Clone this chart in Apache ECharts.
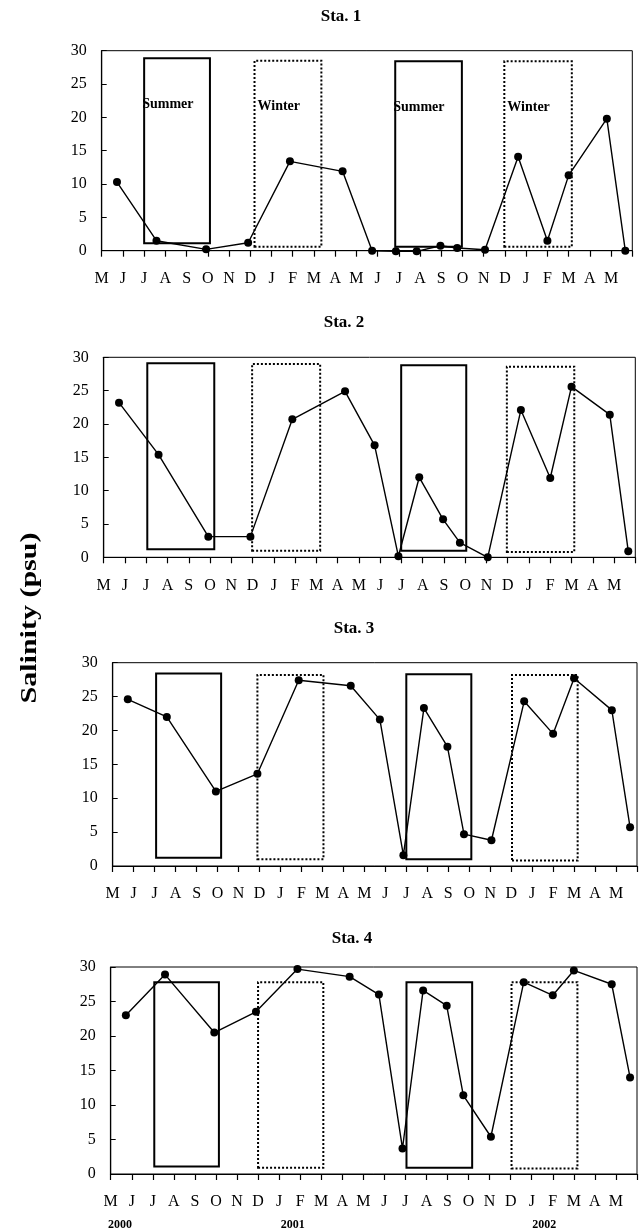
<!DOCTYPE html>
<html>
<head>
<meta charset="utf-8">
<title>Salinity</title>
<script src="https://cdn.jsdelivr.net/npm/echarts@6/dist/echarts.min.js"></script>
<style>
    html, body { margin: 0; padding: 0; background: #fff; }
    #main { width: 640px; height: 1229px; }
</style>
</head>
<body>
<div id="main"></div>
<script>
// month ticks, May 2000 .. Jun 2002
var monthLabels = ['M', 'J', 'J', 'A', 'S', 'O', 'N', 'D', 'J', 'F', 'M', 'A', 'M',
    'J', 'J', 'A', 'S', 'O', 'N', 'D', 'J', 'F', 'M', 'A', 'M', ''];

// sampling dates (months since 1 May 2000), same for all stations
var sampleMonths = [0.72, 2.58, 4.92, 6.9, 8.87, 11.35, 12.74, 13.86, 14.84, 15.96,
    16.75, 18.06, 19.62, 21.0, 22.0, 23.8, 24.67];

// salinity (psu)
var sta1 = [10.3, 1.5, 0.2, 1.2, 13.4, 11.9, 0, -0.1, -0.1, 0.75, 0.4, 0.15, 14.1, 1.5, 11.3, 19.8, 0];
var sta2 = [23.2, 15.4, 3.1, 3.1, 20.7, 24.9, 16.8, 0.15, 12.0, 5.7, 2.2, 0, 22.1, 11.9, 25.6, 21.4, 0.9];
var sta3 = [24.6, 22.0, 11.0, 13.6, 27.4, 26.6, 21.6, 1.6, 23.3, 17.6, 4.7, 3.8, 24.3, 19.5, 27.7, 23.0, 5.7];
var sta4 = [23.0, 28.9, 20.5, 23.5, 29.7, 28.6, 26.0, 3.7, 26.6, 24.4, 11.4, 5.4, 27.8, 25.9, 29.5, 27.5, 14.0];

var stationNames = ['Sta. 1', 'Sta. 2', 'Sta. 3', 'Sta. 4'];
var seasonNames = ['Summer', 'Winter', 'Summer', 'Winter'];

// season boxes: [start month, end month, low, high]
var boxes1 = [[2.0, 5.1, 1.1, 28.85], [7.2, 10.35, 0.6, 28.5], [13.83, 16.97, 0.6, 28.4], [18.97, 22.15, 0.6, 28.4]];
var boxes2 = [[2.05, 5.2, 1.2, 29.1], [6.98, 10.18, 1.0, 29.0], [13.99, 17.05, 1.0, 28.8], [18.96, 22.13, 0.8, 28.6]];
var boxes3 = [[2.07, 5.17, 1.2, 28.4], [6.9, 10.05, 1.0, 28.2], [14.0, 17.1, 1.0, 28.3], [19.04, 22.17, 0.8, 28.2]];
var boxes4 = [[2.07, 5.14, 1.07, 27.8], [7.0, 10.1, 0.9, 27.8], [14.05, 17.17, 0.9, 27.8], [19.04, 22.17, 0.8, 27.8]];

var yearLabels = ['2000', '2001', '2002'];
var yearMonths = [0.44, 8.65, 20.6];

var serif = '"Liberation Serif", "DejaVu Serif", serif';
var stations = [sta1, sta2, sta3, sta4];
var boxes = [boxes1, boxes2, boxes3, boxes4];

// panel layout (px)
var grids = [
    { left: 101.7, top: 50.7, width: 530.6, height: 200 },
    { left: 103.7, top: 357.3, width: 531.6, height: 200 },
    { left: 112.7, top: 662.7, width: 532.5, height: 203.3 },
    { left: 110.7, top: 967, width: 532.5, height: 207 }
];
var titlePos = [[341, 17], [344, 323], [354, 629], [352, 939]];

var myChart = echarts.init(document.getElementById('main'));

var xAxes = [], yAxes = [], series = [], graphics = [];
for (var i = 0; i < 4; i++) {
    grids[i].show = true;
    grids[i].borderColor = '#000';
    grids[i].borderWidth = 1;
    grids[i].backgroundColor = 'transparent';

    xAxes.push({
        type: 'value', gridIndex: i, min: 0, max: 25, interval: 1,
        axisLine: { lineStyle: { color: '#000', width: 1.2 } },
        axisTick: { inside: false, length: 6, lineStyle: { color: '#000', width: 1.2 } },
        axisLabel: {
            margin: 20, color: '#000', fontFamily: serif, fontSize: 16,
            formatter: function (v) { return monthLabels[v] || ''; }
        },
        splitLine: { show: false }
    });
    yAxes.push({
        type: 'value', gridIndex: i, min: 0, max: 30, interval: 5,
        axisLine: { show: true, lineStyle: { color: '#000', width: 1.2 } },
        axisTick: { show: true, inside: true, length: 5, lineStyle: { color: '#000' } },
        axisLabel: { margin: 15, color: '#000', fontFamily: serif, fontSize: 16 },
        splitLine: { show: false }
    });

    var areaData = [];
    for (var j = 0; j < boxes[i].length; j++) {
        var b = boxes[i][j];
        var isWinter = j % 2 == 1;
        areaData.push([{
            coord: [b[0], b[2]],
            itemStyle: {
                color: 'rgba(0,0,0,0)', borderColor: '#000', borderWidth: 2,
                borderType: isWinter ? [2, 2] : 'solid'
            },
            label: {
                show: i == 0,
                formatter: seasonNames[j],
                position: [isWinter ? 4 : -1, 47],
                align: 'left', verticalAlign: 'middle',
                color: '#000', fontFamily: serif, fontWeight: 'bold', fontSize: 14
            }
        }, {
            coord: [b[1], b[3]]
        }]);
    }

    var pts = [];
    for (var k = 0; k < sampleMonths.length; k++) {
        pts.push([sampleMonths[k], stations[i][k]]);
    }
    series.push({
        name: stationNames[i], type: 'line', xAxisIndex: i, yAxisIndex: i,
        data: pts, symbol: 'circle', symbolSize: 8, clip: false,
        lineStyle: { color: '#000', width: 1.4 },
        itemStyle: { color: '#000' },
        markArea: { silent: true, data: areaData }
    });

    graphics.push({
        type: 'text', x: titlePos[i][0], y: titlePos[i][1],
        style: {
            text: stationNames[i], fill: '#000', align: 'center', verticalAlign: 'middle',
            font: 'bold 17px ' + serif
        }
    });
}

// y axis name, common to all panels
graphics.push({
    type: 'text', x: 30, y: 618, rotation: Math.PI / 2, scaleX: 1.25,
    style: {
        text: 'Salinity (psu)', fill: '#000', align: 'center', verticalAlign: 'middle',
        font: 'bold 24px ' + serif
    }
});

myChart.setOption({
    animation: false,
    grid: grids,
    xAxis: xAxes,
    yAxis: yAxes,
    series: series,
    graphic: graphics
});

// year labels under the last panel
for (var y = 0; y < yearLabels.length; y++) {
    var px = myChart.convertToPixel({ xAxisIndex: 3 }, yearMonths[y]);
    graphics.push({
        type: 'text', x: px, y: 1225,
        style: {
            text: yearLabels[y], fill: '#000', align: 'center', verticalAlign: 'middle',
            font: 'bold 12px ' + serif
        }
    });
}
myChart.setOption({ graphic: graphics });
</script>
</body>
</html>
